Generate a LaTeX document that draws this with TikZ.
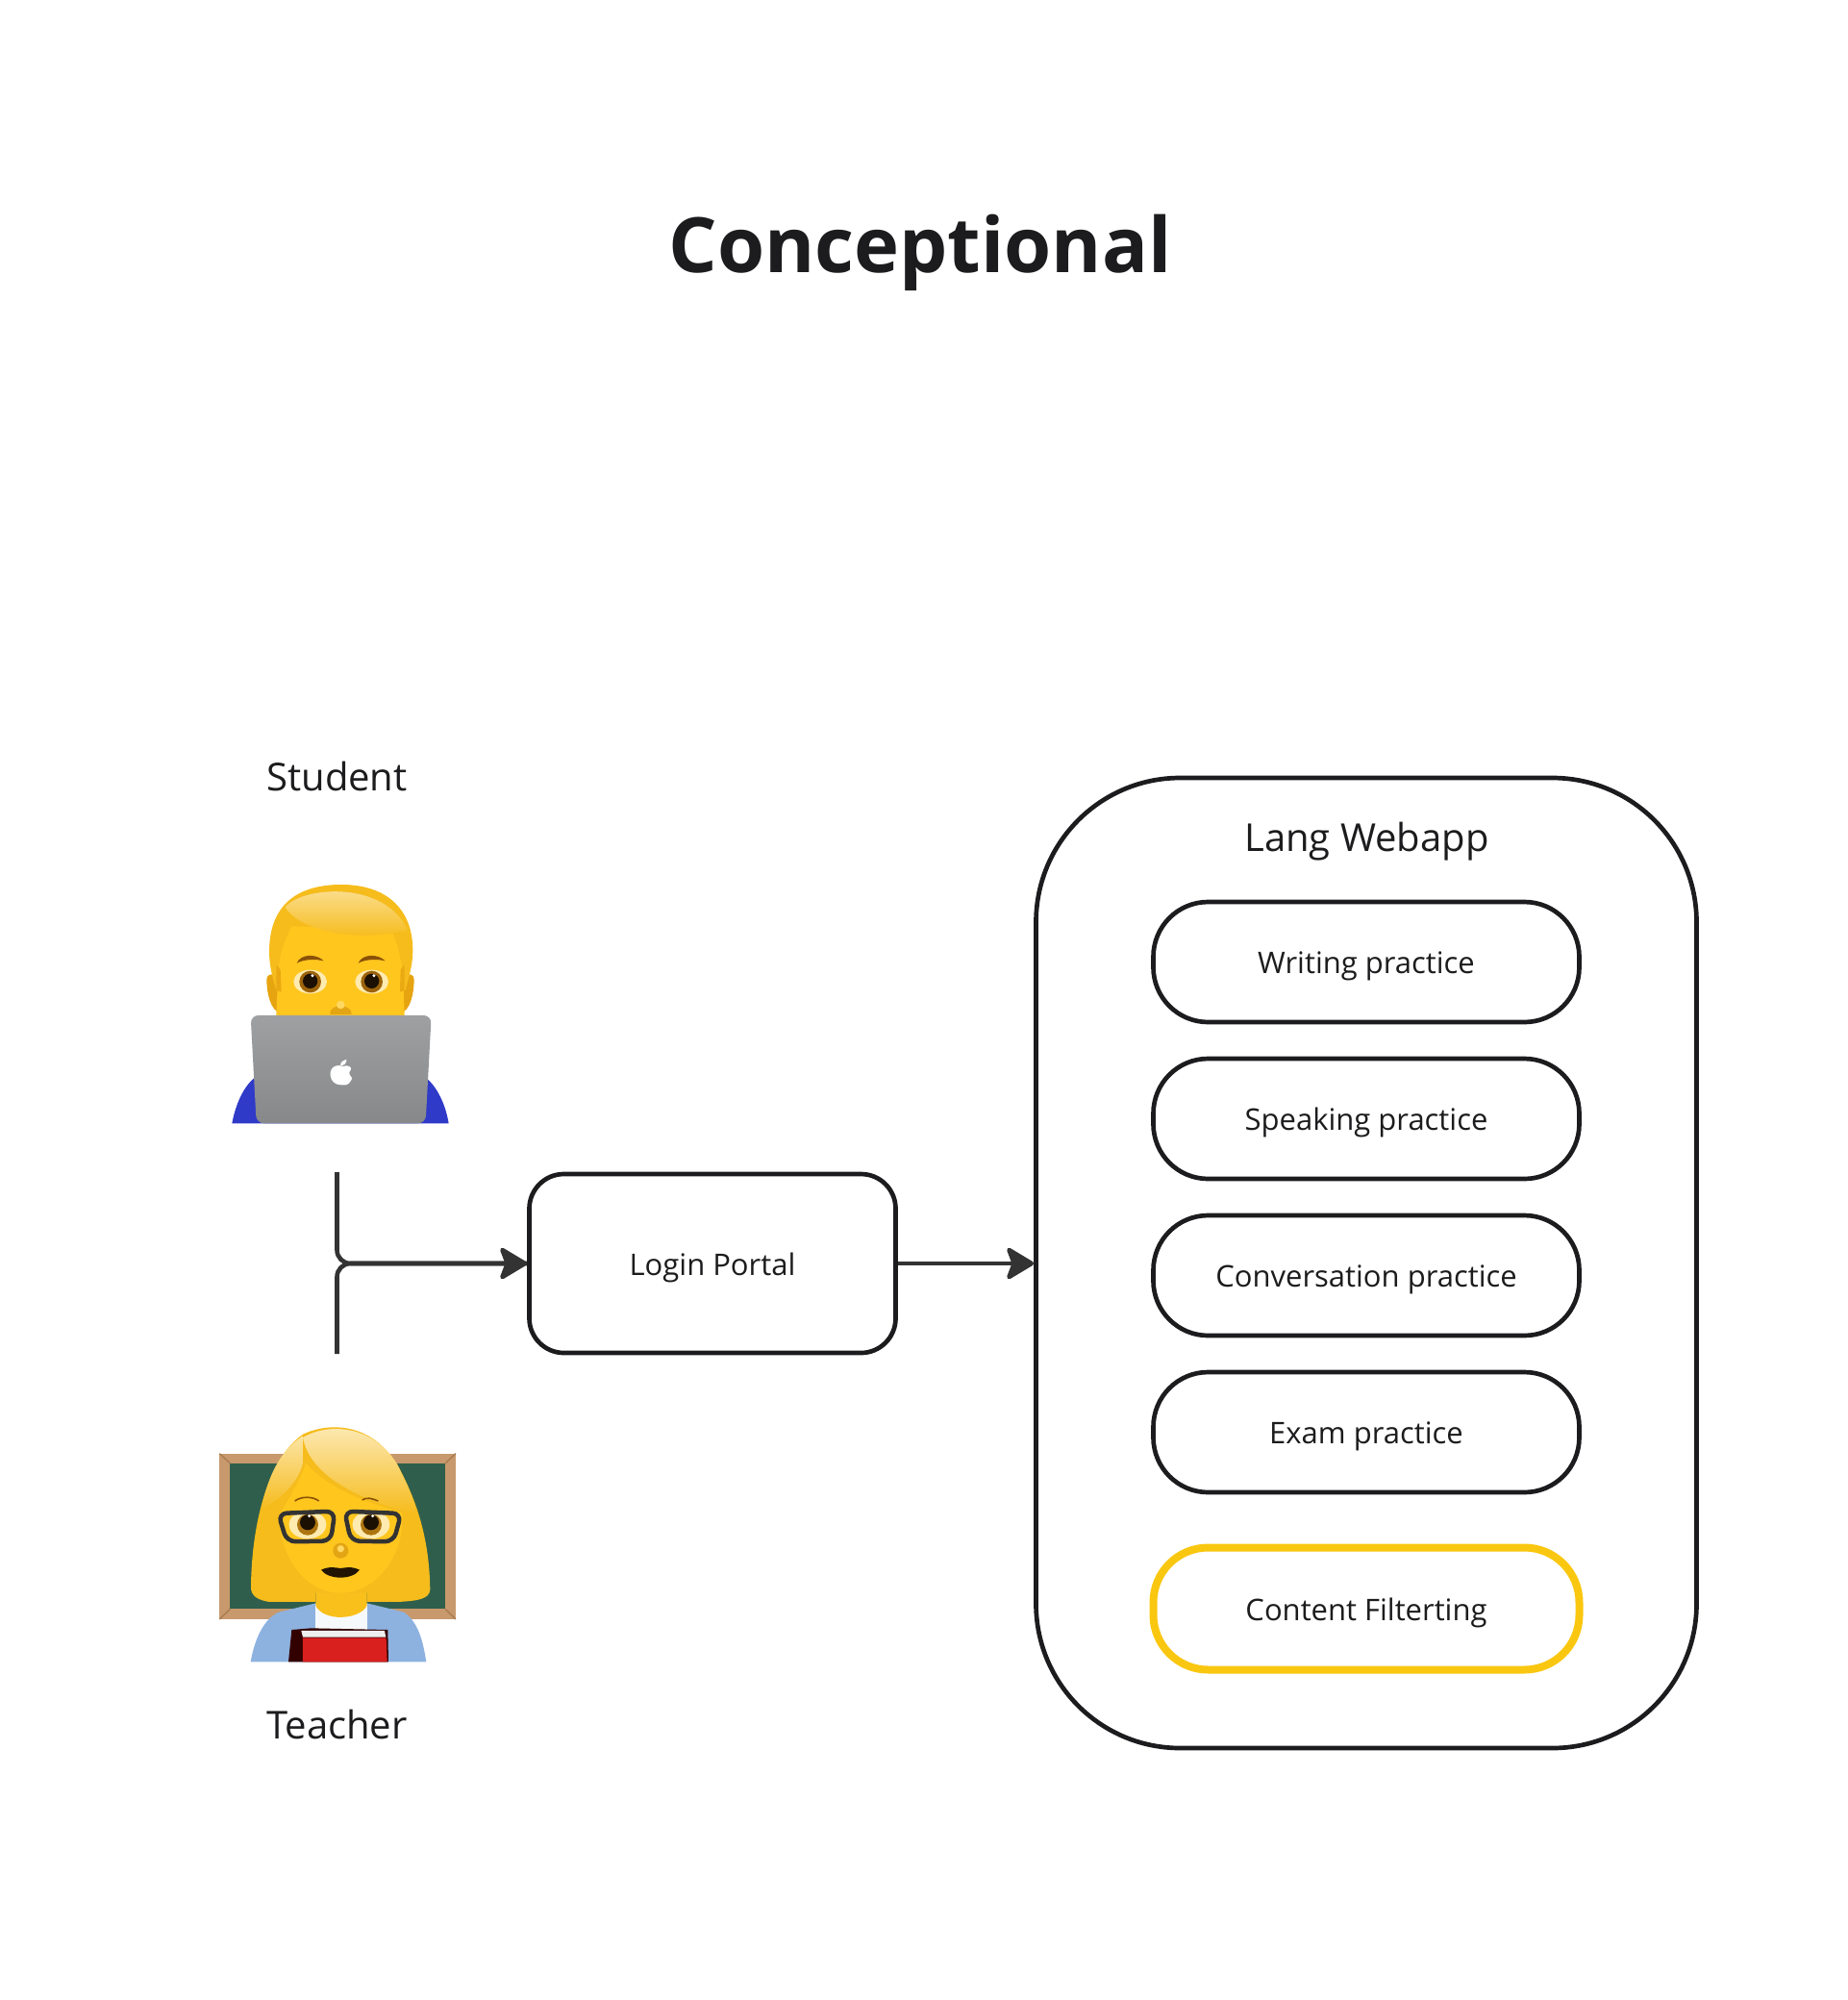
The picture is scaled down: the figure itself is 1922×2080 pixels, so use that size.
\documentclass[tikz,border=0pt]{standalone}
\usepackage{fontspec}
\setmainfont{Open Sans}
\usetikzlibrary{arrows.meta,positioning}
\definecolor{inkline}{HTML}{1C1C1E}
\definecolor{arrowgray}{HTML}{333333}
\definecolor{filteryellow}{HTML}{FAC710}
\definecolor{hairgold}{HTML}{F6BC1C}
\definecolor{hairedge}{HTML}{E6A410}
\definecolor{skingold}{HTML}{FFC61E}
\definecolor{skindark}{HTML}{E3A514}
\definecolor{browbrown}{HTML}{8A5208}
\definecolor{shirtblue}{HTML}{2F3AC8}
\definecolor{lidgray}{HTML}{8D8F91}
\definecolor{frametan}{HTML}{C8996C}
\definecolor{frameedge}{HTML}{A97C52}
\definecolor{boardgreen}{HTML}{2F5F4C}
\definecolor{jacketblue}{HTML}{8DB2E0}
\definecolor{bookred}{HTML}{D9201F}
\tikzset{
  pillbox/.style={draw=inkline,line width=4.7pt,rounded corners=57pt,fill=white,minimum width=443pt,minimum height=125pt,inner sep=0pt,font=\fontsize{31}{36}\selectfont,text=inkline,text height=30pt,text depth=6pt},
  flowline/.style={draw=arrowgray,line width=4.6pt,-{Stealth[length=32pt,width=38pt,inset=7pt,round]}},
  caption/.style={font=\fontsize{40}{48}\selectfont,text=inkline},
}
\begin{document}
\begin{tikzpicture}[x=1pt,y=-1pt]
  \useasboundingbox (0,0) rectangle (1922,2080);
  \node[font=\bfseries\fontsize{79.5}{96}\selectfont,text=inkline] (title) at (957,263) {Conceptional};
  % actors
  \node[caption] (student) at (350.5,807) {Student};
  \node[caption] (teacher) at (350.5,1793) {Teacher};
  % webapp box
  \node[draw=inkline,line width=4.7pt,rounded corners=150pt,minimum width=687pt,minimum height=1009pt,inner sep=0pt] (webapp) at (1421,1313.5) {};
  \node[caption] (webapptitle) at (1421.5,875) {Lang Webapp};
  % practice pills
  \foreach \nam/\y/\lab in {writing/1000.5/Writing practice,speaking/1163.5/Speaking practice,conversation/1326.5/Conversation practice,exam/1489.5/Exam practice}
    \node[pillbox] (\nam) at (1421,\y) {\lab};
  \node[pillbox,draw=filteryellow,line width=8pt,minimum height=127pt] (filter) at (1421,1673) {Content Filterting};
  \node[pillbox,rounded corners=36pt,minimum width=381pt,minimum height=186pt] (login) at (741,1314) {Login Portal};
  % connectors
  \coordinate (branchtop) at (350.5,1219);
  \coordinate (branchbot) at (350.5,1408);
  \draw[flowline,rounded corners=14pt] (branchtop) |- (login.west);
  \draw[draw=arrowgray,line width=4.6pt,rounded corners=14pt] (branchbot) |- (login.west);
  \draw[flowline] (login.east) -- (login.east -| webapp.west);
  % man with laptop
  \begin{scope}[shift={(200,880)},x=0.3333pt,y=-0.3333pt]
    \fill[shirtblue] (124,865) .. controls (135,805) and (160,750) .. (195,722) -- (735,728) .. controls (770,760) and (792,815) .. (800,865) -- cycle;
    \fill[hairedge] (232,415) .. controls (232,400) and (250,395) .. (262,405) -- (275,520) .. controls (245,515) and (232,460) .. (232,415) -- cycle;
    \fill[hairedge] (692,415) .. controls (692,400) and (675,395) .. (662,405) -- (650,520) .. controls (680,515) and (692,460) .. (692,415) -- cycle;
    \fill[hairgold] (240,330) .. controls (240,190) and (320,120) .. (465,120) .. controls (610,120) and (690,200) .. (688,330) .. controls (688,370) and (675,410) .. (665,450) -- (262,450) .. controls (250,410) and (240,370) .. (240,330) -- cycle;
    \fill[skingold] (262,530) -- (268,400) .. controls (270,340) and (290,290) .. (310,250) -- (620,260) .. controls (640,300) and (650,350) .. (658,400) -- (662,530) -- cycle;
    \fill[hairedge!85!skingold] (262,450) -- (278,455) -- (275,385) -- (262,370) -- cycle;
    \fill[hairedge!85!skingold] (662,450) -- (648,455) -- (650,385) -- (662,370) -- cycle;
    \shade[top color=hairgold!40!white,bottom color=hairgold] (290,190) .. controls (345,125) and (600,105) .. (672,262) .. controls (600,282) and (500,285) .. (420,265) .. controls (360,250) and (310,225) .. (290,190) -- cycle;
    \foreach \xa in {368,560} {
      \fill[skingold!35!white] (\xa,423) ellipse [x radius=52,y radius=37];
      \fill[browbrown!85!skingold] (\xa,423) circle (34);
      \fill[black!80!browbrown] (\xa,421) circle (23);
      \fill[white] (\xa+7,404) circle (5);
      \fill[browbrown] (\xa-42,365) .. controls (\xa-30,335) and (\xa+20,335) .. (\xa+42,358) .. controls (\xa+20,352) and (\xa-20,352) .. (\xa-42,365) -- cycle;
    }
    \fill[skindark] (430,525) .. controls (425,490) and (500,490) .. (497,525) -- cycle;
    \fill[skingold!70!white] (463,495) circle (13);
    \shade[top color=lidgray!85!white,bottom color=lidgray!95!black,rounded corners=8pt] (182,528) -- (746,528) -- (728,865) -- (200,865) -- cycle;
    \fill[white] (463,745) .. controls (425,745) and (420,690) .. (450,685) .. controls (460,682) and (470,690) .. (480,685) .. controls (495,685) and (500,695) .. (490,705) .. controls (488,720) and (505,720) .. (496,730) .. controls (485,750) and (475,745) .. (463,745) -- cycle;
    \fill[white] (462,685) .. controls (462,672) and (472,668) .. (481,665) .. controls (482,678) and (474,684) .. (462,685) -- cycle;
  \end{scope}
  % teacher with board
  \begin{scope}[shift={(200,1460)},x=0.3333pt,y=-0.3333pt]
    \fill[frametan] (85,155) rectangle (822,672);
    \fill[boardgreen] (118,185) rectangle (790,640);
    \draw[frameedge,line width=1.4pt] (85,155) -- (118,185) (822,155) -- (790,185) (85,672) -- (118,640) (822,672) -- (790,640);
    \fill[jacketblue] (182,805) .. controls (195,730) and (225,670) .. (270,650) -- (385,622) -- (545,622) -- (660,650) .. controls (705,680) and (720,740) .. (730,805) -- cycle;
    \fill[white!92!jacketblue] (385,625) -- (545,625) -- (545,710) -- (385,710) -- cycle;
    \fill[skingold!80!skindark] (385,560) -- (545,560) -- (545,630) .. controls (520,675) and (410,680) .. (385,630) -- cycle;
    \fill[hairgold] (345,95) .. controls (430,55) and (560,60) .. (640,190) .. controls (700,300) and (740,420) .. (742,580) .. controls (740,610) and (700,615) .. (640,618) -- (545,618) -- (545,590) -- (385,590) -- (385,618) -- (240,618) .. controls (205,612) and (182,600) .. (183,570) .. controls (185,400) and (225,180) .. (345,95) -- cycle;
    \fill[skingold] (272,345) .. controls (300,300) and (335,240) .. (355,185) .. controls (420,260) and (520,300) .. (655,340) .. controls (665,450) and (590,590) .. (460,590) .. controls (340,590) and (265,450) .. (272,345) -- cycle;
    \shade[top color=hairgold!40!white,bottom color=hairgold] (345,100) .. controls (270,150) and (235,230) .. (215,330) .. controls (270,300) and (330,250) .. (345,185) -- cycle;
    \shade[top color=hairgold!30!white,bottom color=hairgold] (345,105) .. controls (430,55) and (570,70) .. (640,190) .. controls (665,240) and (690,290) .. (700,345) .. controls (560,310) and (370,240) .. (345,105) -- cycle;
    \foreach \xa in {360,558} {
      \fill[skingold!35!white] (\xa,377) ellipse [x radius=58,y radius=44];
      \fill[browbrown!70!skingold] (\xa,377) circle (33);
      \fill[black!80!browbrown] (\xa,370) circle (24);
      \fill[white] (\xa+5,350) circle (5);
    }
    \draw[arrowgray,line width=4.5pt,rounded corners=9pt] (268,342) -- (445,335) -- (432,428) -- (295,430) -- cycle;
    \draw[arrowgray,line width=4.5pt,rounded corners=9pt] (652,342) -- (475,335) -- (495,428) -- (628,430) -- cycle;
    \draw[browbrown,line width=1.6pt] (320,303) .. controls (340,288) and (375,288) .. (395,303);
    \draw[browbrown,line width=1.6pt] (530,300) .. controls (545,290) and (560,295) .. (580,303);
    \fill[skindark] (463,458) circle (24);
    \fill[skingold!70!white] (463,452) circle (11);
    \fill[black!75!browbrown] (402,518) .. controls (430,505) and (450,512) .. (462,513) .. controls (475,512) and (495,505) .. (522,518) .. controls (500,550) and (425,550) .. (402,518) -- cycle;
    \fill[black!80!red] (300,805) -- (310,705) -- (370,700) -- (610,705) -- (612,805) -- cycle;
    \fill[white!85!lidgray] (340,708) -- (600,708) -- (604,728) -- (345,728) -- cycle;
    \fill[bookred] (345,730) -- (605,730) -- (608,805) -- (345,805) -- cycle;
  \end{scope}
\end{tikzpicture}
\end{document}
